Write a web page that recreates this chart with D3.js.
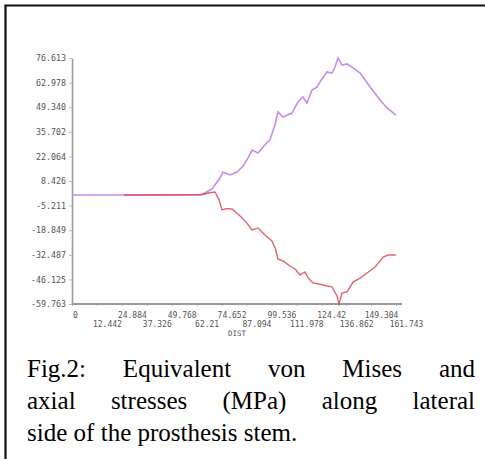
<!DOCTYPE html>
<html>
<head>
<meta charset="utf-8">
<script src="https://cdn.jsdelivr.net/npm/d3@7"></script>
<style>
  html, body { margin: 0; padding: 0; background: #fff; }
  svg { display: block; }
</style>
</head>
<body>
<svg id="chart" width="485" height="459"></svg>
<script>
// ---- data ----
const yTickValues = [76.613, 62.978, 49.340, 35.702, 22.064, 8.426, -5.211, -18.849, -32.487, -46.125, -59.763];
const yTickLabels = ["76.613", "62.978", "49.340", "35.702", "22.064", "8.426", "-5.211", "-18.849", "-32.487", "-46.125", "-59.763"];
const xTickValues = [0, 12.442, 24.884, 37.326, 49.768, 62.21, 74.652, 87.094, 99.536, 111.978, 124.42, 136.862, 149.304, 161.743];
const xTickLabels = ["0", "12.442", "24.884", "37.326", "49.768", "62.21", "74.652", "87.094", "99.536", "111.978", "124.42", "136.862", "149.304", "161.743"];
const xAxisTitle = "DIST";

// von Mises (SEQV)
const seqvDist = [0, 26.0, 63.9, 65.4, 68.9, 69.9, 73.9, 75.4, 78.9, 82.4, 85.4, 87.9, 89.9, 92.9, 95.8, 98.8, 101.3, 102.8, 105.3, 109.8, 112.8, 115.3, 117.3, 119.8, 122.3, 123.8, 127.3, 129.8, 131.3, 132.8, 134.8, 137.3, 140.3, 143.8, 145.3, 148.8, 153.8, 157.3, 161.7];
const seqvVal  = [0.66, 0.66, 0.9, 1.2, 3.4, 4.0, 10.1, 13.4, 11.8, 13.4, 16.7, 21.2, 25.6, 24.0, 27.8, 31.2, 39.5, 46.7, 43.9, 46.1, 52.2, 55.0, 51.7, 58.9, 60.5, 63.3, 68.9, 68.3, 71.6, 76.6, 72.7, 73.3, 71.1, 68.3, 66.1, 60.5, 53.3, 48.9, 45.0];

// axial stress
const axialDist = [26.0, 63.9, 68.0, 71.4, 73.4, 74.9, 77.0, 79.9, 83.9, 87.0, 89.9, 92.9, 96.3, 99.8, 101.5, 102.8, 105.5, 108.8, 111.5, 113.8, 116.3, 118.0, 120.3, 124.0, 127.3, 129.8, 132.3, 133.3, 134.8, 137.3, 140.3, 143.8, 147.3, 151.3, 155.3, 157.8, 161.7];
const axialVal  = [0.66, 0.66, 1.8, 2.3, -2.0, -7.6, -6.9, -7.1, -11.0, -14.5, -18.7, -17.6, -21.5, -24.8, -29.0, -34.8, -36.0, -38.7, -40.5, -43.7, -42.0, -45.5, -48.1, -48.8, -49.8, -50.3, -55.3, -59.8, -53.7, -53.1, -47.6, -45.4, -42.6, -39.3, -33.7, -32.6, -32.6];

const captionLines = [
  ["Fig.2:", "Equivalent", "von", "Mises", "and"],
  ["axial", "stresses", "(MPa)", "along", "lateral"],
  ["side", "of", "the", "prosthesis", "stem."]
];

// ---- drawing ----
const svg = d3.select("#chart");

// frame
svg.append("path")
  .attr("d", "M5.5,470 L5.5,5.5 L490,5.5")
  .attr("fill", "none")
  .attr("stroke", "#111")
  .attr("stroke-width", 2.2);

const x = d3.scaleLinear().domain([0, 161.743]).range([72, 396]);
const y = d3.scaleLinear().domain([-59.763, 76.613]).range([304, 58]);

const axisColor = "#9a9a9a";
const labelFont = "'DejaVu Sans Mono', 'Liberation Mono', monospace";

// y axis
const yAxis = d3.axisLeft(y)
  .tickValues(yTickValues)
  .tickFormat((d, i) => yTickLabels[i])
  .tickSize(3)
  .tickSizeOuter(0)
  .tickPadding(3);
const gy = svg.append("g").attr("transform", `translate(${x(0)},0)`).call(yAxis);
gy.select(".domain").attr("stroke", axisColor).attr("stroke-width", 1.6);
gy.selectAll(".tick line").attr("stroke", "#bbb");
gy.selectAll(".tick text")
  .attr("fill", "#555")
  .style("font-family", labelFont)
  .style("font-size", "8.3px");

// x axis
const xAxis = d3.axisBottom(x)
  .tickValues(xTickValues)
  .tickFormat((d, i) => xTickLabels[i])
  .tickSize(2)
  .tickSizeOuter(0)
  .tickPadding(7);
const gx = svg.append("g").attr("transform", `translate(0,${y(-59.763)})`).call(xAxis);
gx.select(".domain").remove();
gx.append("line")
  .attr("x1", x(0)).attr("x2", x(161.743) + 6)
  .attr("y1", 0).attr("y2", 0)
  .attr("stroke", axisColor).attr("stroke-width", 1.8);
gx.selectAll(".tick line").attr("stroke", "#bbb");
gx.selectAll(".tick text")
  .attr("fill", "#555")
  .attr("text-anchor", "middle")
  .attr("dx", (d, i) => i === 0 ? 3 : 10)
  .attr("y", (d, i) => i % 2 === 0 ? 8 : 17)
  .style("font-family", labelFont)
  .style("font-size", "8px");

svg.append("text")
  .attr("x", 237).attr("y", 336)
  .attr("text-anchor", "middle")
  .attr("fill", "#555")
  .style("font-family", labelFont)
  .style("font-size", "7.5px")
  .text(xAxisTitle);

// lines
const line = d3.line().x(d => x(d[0])).y(d => y(d[1]));
const axialData = axialDist.map((d, i) => [d, axialVal[i]]);
const seqvData = seqvDist.map((d, i) => [d, seqvVal[i]]);

svg.append("path")
  .datum(seqvData)
  .attr("d", line)
  .attr("fill", "none")
  .attr("stroke", "#c58cf2")
  .attr("stroke-width", 1.6);

svg.append("path")
  .datum(axialData)
  .attr("d", line)
  .attr("fill", "none")
  .attr("stroke", "#e03a4a")
  .attr("stroke-opacity", 0.8)
  .attr("stroke-width", 1.4);

// caption (justified)
const capLeft = 27, capRight = 475;
const baselines = [377, 409, 441];
captionLines.forEach((words, li) => {
  const g = svg.append("g");
  const texts = words.map(w => g.append("text")
    .attr("y", baselines[li])
    .attr("fill", "#000")
    .style("font-family", "'Liberation Serif', 'Times New Roman', serif")
    .style("font-size", "25px")
    .text(w));
  const widths = texts.map(t => t.node().getComputedTextLength());
  const total = d3.sum(widths);
  const justify = li < captionLines.length - 1;
  const gap = justify ? (capRight - capLeft - total) / (words.length - 1) : 6.3;
  let cx = capLeft;
  texts.forEach((t, i) => {
    t.attr("x", cx);
    cx += widths[i] + gap;
  });
});
</script>
</body>
</html>
